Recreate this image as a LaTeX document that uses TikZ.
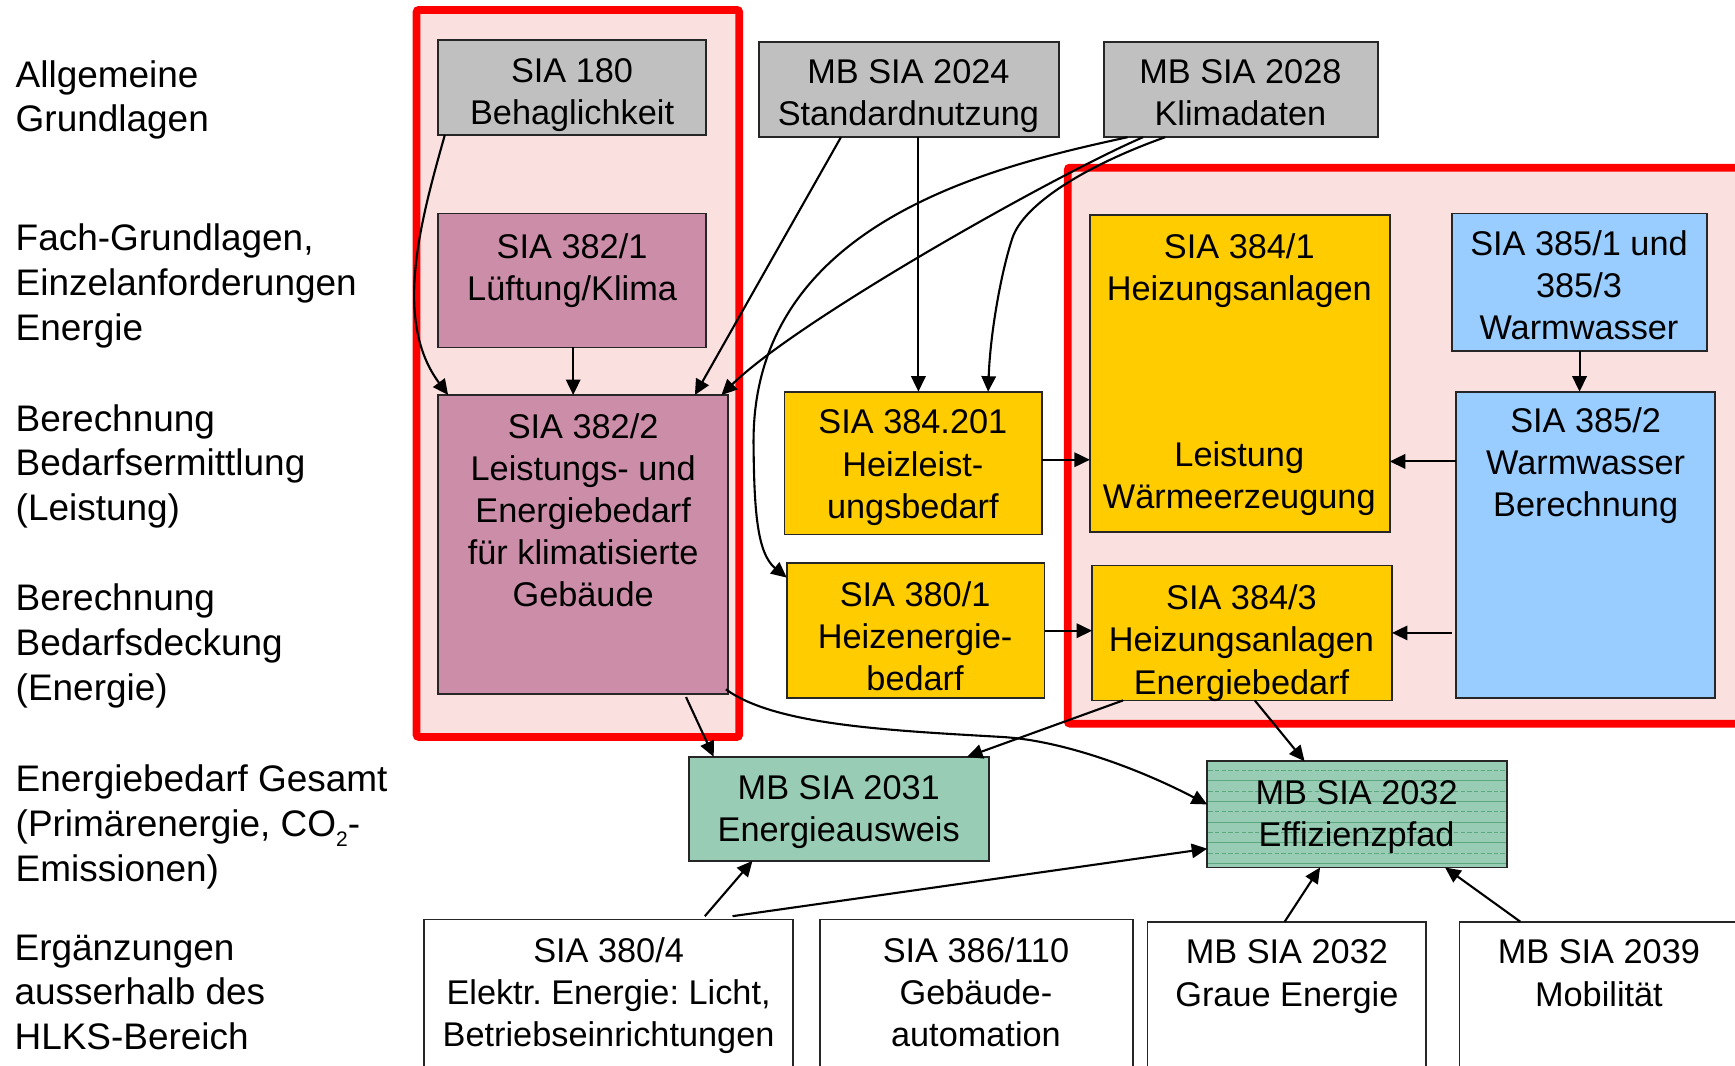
\documentclass[tikz,border=0pt]{standalone}
\usepackage{fontspec}
\setmainfont{Liberation Sans}
\usetikzlibrary{arrows.meta}
\definecolor{cgray}{RGB}{192,192,192}
\definecolor{cmauve}{RGB}{204,141,168}
\definecolor{cgold}{RGB}{255,204,0}
\definecolor{cblue}{RGB}{153,204,255}
\definecolor{cgreen}{RGB}{153,204,180}
\definecolor{cgline}{RGB}{92,168,126}
\definecolor{cpink}{RGB}{251,224,224}
\definecolor{cred}{RGB}{255,0,0}
\newcommand{\bst}{\rule{0pt}{25pt}}
\newcommand{\lst}{\rule{0pt}{27pt}}
\frenchspacing
\begin{document}
\begin{tikzpicture}[x=1pt,y=-1pt,
  box/.style={draw=black!85, line width=1.6pt, inner sep=0pt, outer sep=0pt, anchor=north west},
  btxt/.style={anchor=north, inner sep=0pt, align=center, font=\fontsize{31pt}{38pt}\selectfont},
  ltxt/.style={anchor=north west, inner sep=0pt, align=left, font=\fontsize{33.4pt}{40.5pt}\selectfont},
  arr/.style={line width=1.9pt, -{Triangle[length=14pt,width=13pt]}},
  area/.style={draw=cred, line width=7pt, fill=cpink, rounded corners=2pt}]
\useasboundingbox (0,0) rectangle (1568,962.5);
\clip (0,0) rectangle (1568,962.5);
\fill[white] (0,0) rectangle (1568,962.5);

% red areas
\draw[area] (376.5,9) rectangle (668,666);
\draw[area] (965,151.5) rectangle (1610,654);

% left labels
\node[ltxt] (l1) at (14,51.5) {\lst Allgemeine\\Grundlagen};
\node[ltxt] (l2) at (14,199.5) {\lst Fach-Grundlagen,\\Einzelanforderungen\\Energie};
\node[ltxt] (l3) at (14,362.4) {\lst Berechnung\\Bedarfsermittlung\\(Leistung)};
\node[ltxt] (l4) at (14,524.8) {\lst Berechnung\\Bedarfsdeckung\\(Energie)};
\node[ltxt] (l5) at (14,688.5) {\lst Energiebedarf Gesamt\\(Primärenergie, CO\raisebox{-9pt}{\fontsize{19pt}{19pt}\selectfont 2}-\\Emissionen)};
\node[ltxt] (l6) at (13,840.5) {\lst Ergänzungen\\ausserhalb des\\HLKS-Bereich};

% boxes
\node[box, fill=cgray, minimum width=242pt, minimum height=86pt] (s180) at (396,36) {};
\node[box, fill=cgray, minimum width=271pt, minimum height=86pt] (s2024) at (686,38) {};
\node[box, fill=cgray, minimum width=247pt, minimum height=86pt] (s2028) at (998,38) {};
\node[box, fill=cmauve, minimum width=242pt, minimum height=121pt] (s3821) at (396,193) {};
\node[box, fill=cmauve, minimum width=262pt, minimum height=270pt] (s3822) at (396,357) {};
\node[box, fill=cgold, minimum width=233pt, minimum height=129pt] (s384201) at (709,354) {};
\node[box, fill=cgold, minimum width=233pt, minimum height=122pt] (s3801) at (711,509) {};
\node[box, fill=cgold, minimum width=271pt, minimum height=287pt] (s3841) at (985,194) {};
\node[box, fill=cgold, minimum width=271pt, minimum height=122pt] (s3843) at (987,511) {};
\node[box, fill=cblue, minimum width=231pt, minimum height=124pt] (s3851) at (1312,193) {};
\node[box, fill=cblue, minimum width=234pt, minimum height=277pt] (s3852) at (1316,354) {};
\node[box, fill=cgreen, minimum width=271pt, minimum height=94pt] (s2031) at (623,684) {};
\node[box, fill=cgreen, minimum width=271pt, minimum height=96pt] (s2032) at (1091,688) {};
\node[box, fill=white, minimum width=334pt, minimum height=160pt] (s3804) at (383,831) {};
\node[box, fill=white, minimum width=283pt, minimum height=160pt] (s386) at (741,831) {};
\node[box, fill=white, minimum width=252pt, minimum height=160pt] (s2032g) at (1037,833) {};
\node[box, fill=white, minimum width=300pt, minimum height=160pt] (s2039) at (1319,833) {};

% stripes of MB SIA 2032 Effizienzpfad
\foreach \k in {0,...,4} {
  \draw[cgline, line width=0.9pt, dash pattern=on 4pt off 2pt]
    ([xshift=1pt,yshift={-8.5pt-18.6pt*\k}]s2032.north west) -- ([xshift=-1pt,yshift={-8.5pt-18.6pt*\k}]s2032.north east);
  \draw[cgline, line width=0.9pt]
    ([xshift=1pt,yshift={-17.8pt-18.6pt*\k}]s2032.north west) -- ([xshift=-1pt,yshift={-17.8pt-18.6pt*\k}]s2032.north east);
}

% box texts
\node[btxt] (t180) at (517,49.5) {\bst SIA 180\\Behaglichkeit};
\node[btxt] (t2024) at (821,50.5) {\bst MB SIA 2024\\Standardnutzung};
\node[btxt] (t2028) at (1121,50.5) {\bst MB SIA 2028\\Klimadaten};
\node[btxt] (t3821) at (517,208) {\bst SIA 382/1\\Lüftung/Klima};
\node[btxt] (t3822) at (527,371) {\bst SIA 382/2\\Leistungs- und\\Energiebedarf\\für klimatisierte\\Gebäude};
\node[btxt] (t384201) at (825,367) {\bst SIA 384.201\\Heizleist-\\ungsbedarf};
\node[btxt] (t3801) at (827,523) {\bst SIA 380/1\\Heizenergie-\\bedarf};
\node[btxt] (t3841a) at (1120,208) {\bst SIA 384/1\\Heizungsanlagen};
\node[btxt] (t3841b) at (1120,396) {\bst Leistung\\Wärmeerzeugung};
\node[btxt] (t3843) at (1122,526) {\bst SIA 384/3\\Heizungsanlagen\\Energiebedarf};
\node[btxt] (t3851) at (1427,206) {\bst SIA 385/1 und\\385/3\\Warmwasser};
\node[btxt] (t3852) at (1433,366) {\bst SIA 385/2\\Warmwasser\\Berechnung};
\node[btxt] (t2031) at (758,697) {\bst MB SIA 2031\\Energieausweis};
\node[btxt] (t2032) at (1226,702) {\bst MB SIA 2032\\Effizienzpfad};
\node[btxt] (t3804) at (550,845) {\bst SIA 380/4\\Elektr. Energie: Licht,\\Betriebseinrichtungen};
\node[btxt] (t386) at (882,845) {\bst SIA 386/110\\Gebäude-\\automation};
\node[btxt] (t2032g) at (1163,846) {\bst MB SIA 2032\\Graue Energie};
\node[btxt] (t2039) at (1445,846) {\bst MB SIA 2039\\Mobilität};

% connectors
\draw[arr] ([xshift=6pt]s180.south west) .. controls (380,200) and (355,290) .. ([xshift=9pt]s3822.north west);
\draw[arr] ([xshift=1pt]s3821.south) -- ([xshift=1pt]s3821.south |- s3822.north);
\draw[arr] ([xshift=74pt]s2024.south west) -- ([xshift=-30pt]s3822.north east);
\draw[arr] ([xshift=144pt]s2024.south west) -- ([xshift=144pt]s2024.south west |- s384201.north);
\draw[arr] ([xshift=21pt]s2028.south west) .. controls (900,150) and (680,200) .. (681,400) .. controls (681.5,460) and (684,500) .. ([yshift=-13pt]s3801.north west);
\draw[arr] ([xshift=35pt]s2028.south west) .. controls (950,160) and (720,290) .. ([xshift=-6pt]s3822.north east);
\draw[arr] ([xshift=55pt]s2028.south west) .. controls (980,150) and (925,185) .. (915,215) .. controls (905,245) and (895,300) .. ([xshift=184pt]s384201.north west);
\draw[arr] ([yshift=3pt]s384201.east) -- ([yshift=3pt]s384201.east -| s3841.west);
\draw[arr] (s3851.south) -- (s3851.south |- s3852.north);
\draw[arr] ([yshift=75.5pt]s3852.west) -- ([yshift=75.5pt]s3852.west -| s3841.east);
\draw[arr] (s3801.east) -- (s3801.east -| s3843.west);
\draw[arr] ([xshift=-4pt]s3843.east -| s3852.west) -- (s3843.east);
\draw[arr] ([xshift=93pt,yshift=-3pt]s3822.south) -- ([xshift=22pt]s2031.north west);
\draw[arr] ([xshift=-2pt,yshift=4pt]s3822.south east) .. controls (700,655) and (800,660) .. (905,666) .. controls (960,669) and (1030,695) .. ([yshift=9pt]s2032.west);
\draw[arr] ([xshift=28pt]s3843.south west) -- ([xshift=-20pt]s2031.north east);
\draw[arr] ([xshift=147pt]s3843.south west) -- ([xshift=88pt]s2032.north west);
\draw[arr] ([xshift=254pt,yshift=3pt]s3804.north west) -- ([xshift=57pt]s2031.south west);
\draw[arr] ([xshift=279pt,yshift=3pt]s3804.north west) -- ([yshift=-31pt]s2032.west);
\draw[arr] ([xshift=124pt]s2032g.north west) -- ([xshift=102pt]s2032.south west);
\draw[arr] ([xshift=55pt]s2039.north west) -- ([xshift=215pt]s2032.south west);
\end{tikzpicture}
\end{document}
